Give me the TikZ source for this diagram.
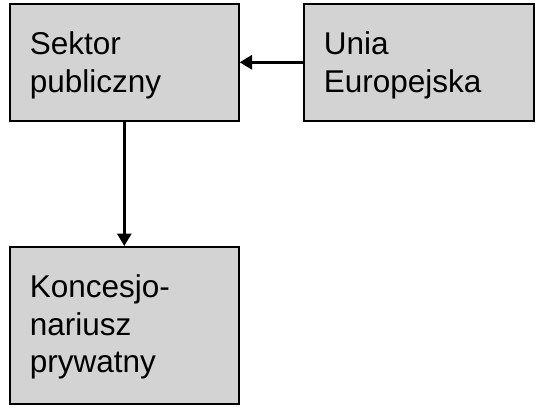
\documentclass[tikz,border=0pt]{standalone}
\usepackage{fontspec}
\setmainfont{Liberation Sans}
\usetikzlibrary{arrows.meta}
\definecolor{boxgray}{RGB}{211,211,211}
\newcommand{\boxtext}[3]{\parbox[c][#2][t]{#1}{\fontsize{31.5bp}{37.5bp}\selectfont\leftskip=20bp\rule{0pt}{51bp}#3}}
\begin{document}
\begin{tikzpicture}[x=1bp,y=-1bp,
  box/.style={draw=black, line width=1.6bp, fill=boxgray, rectangle, inner sep=0pt, anchor=north west},
  conn/.style={line width=3bp, -{Triangle[length=12.5bp,width=14bp]}}]
\useasboundingbox (0,0) rectangle (536,408);
\node[box] (sektor) at (9,3) {\boxtext{229bp}{117bp}{Sektor\\publiczny}};
\node[box] (unia) at (303,3) {\boxtext{230bp}{117bp}{Unia\\Europejska}};
\node[box] (konc) at (9,246) {\boxtext{229bp}{157bp}{Koncesjo-\\nariusz\\prywatny}};
\draw[conn] (unia.west) -- (sektor.east);
\draw[conn] (sektor.south) -- (konc.north);
\end{tikzpicture}
\end{document}
